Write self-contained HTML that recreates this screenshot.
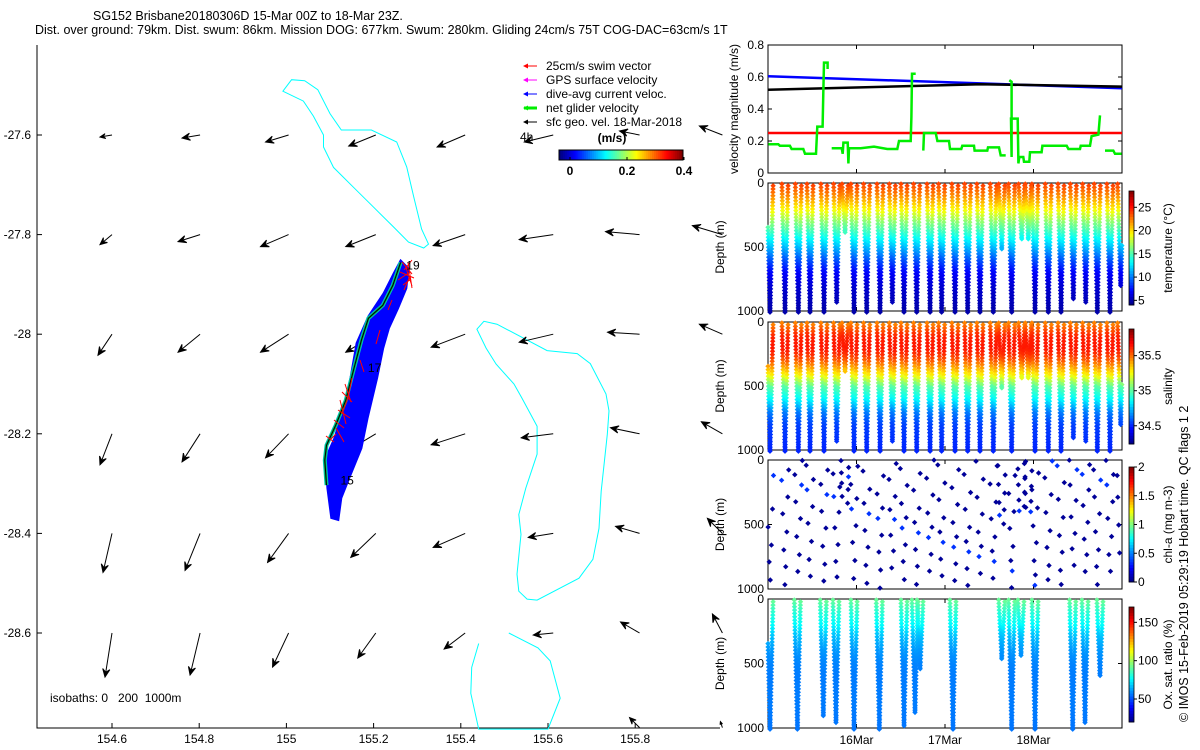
<!DOCTYPE html>
<html><head><meta charset="utf-8"><style>
html,body{margin:0;padding:0;background:#fff;}
svg{display:block;font-family:"Liberation Sans",sans-serif;}
</style></head><body>
<svg id="fig" width="1200" height="750" viewBox="0 0 1200 750" xmlns="http://www.w3.org/2000/svg">
<rect width="1200" height="750" fill="#fff"/>
<text x="93" y="20" font-size="12.5">SG152 Brisbane20180306D 15-Mar 00Z to 18-Mar 23Z.</text>
<text x="35" y="34" font-size="12.5">Dist. over ground: 79km. Dist. swum: 86km. Mission DOG: 677km. Swum: 280km. Gliding 24cm/s 75T COG-DAC=63cm/s 1T</text>
<g id="map"></g>
<g id="right"></g>
<text transform="translate(1188,722) rotate(-90)" font-size="12.5">© IMOS 15-Feb-2019 05:29:19 Hobart time. QC flags 1  2</text>
</svg>
<script>
// ---------- MAP DATA ----------
const mapLonTicks = [154.6, 154.8, 155, 155.2, 155.4, 155.6, 155.8];
const mapLatTicks = [-27.6, -27.8, -28, -28.2, -28.4, -28.6];
const gridLons = [154.6, 154.802, 155.005, 155.205, 155.41, 155.612, 155.81, 156.0];
const gridLats = [-27.6, -27.8, -28.0, -28.2, -28.4, -28.6, -28.79];
const vecU = [
 [-0.12,-0.18,-0.23,-0.27,-0.28,-0.29,-0.20,-0.23],
 [-0.12,-0.22,-0.28,-0.30,-0.32,-0.34,-0.34,-0.30],
 [-0.14,-0.22,-0.28,-0.30,-0.34,-0.34,-0.32,-0.23],
 [-0.12,-0.18,-0.23,-0.25,-0.34,-0.32,-0.29,-0.21],
 [-0.09,-0.15,-0.21,-0.25,-0.32,-0.25,-0.24,-0.15],
 [-0.07,-0.10,-0.16,-0.18,-0.21,-0.20,-0.19,-0.10],
 [null,null,null,null,null,null,-0.10,-0.02]];
const vecV = [
 [-0.02,-0.03,-0.07,-0.11,-0.12,-0.07,0.04,0.09],
 [-0.10,-0.07,-0.12,-0.12,-0.11,-0.05,0.03,0.09],
 [-0.21,-0.18,-0.18,-0.18,-0.13,-0.08,0.02,0.10],
 [-0.31,-0.28,-0.24,-0.15,-0.11,-0.04,0.06,0.12],
 [-0.39,-0.37,-0.29,-0.24,-0.14,-0.04,0.07,0.15],
 [-0.44,-0.42,-0.34,-0.25,-0.16,-0.02,0.11,0.19],
 [null,null,null,null,null,null,0.10,0.06]];
const isoNorthLon = [154.992,155.012,155.042,155.072,155.100,155.126,155.195,155.253,155.276,155.292,155.310,155.326,155.315,155.280,155.246,155.200,155.154,155.108,155.085,155.085,155.062,155.039];
const isoNorthLat = [-27.512,-27.489,-27.491,-27.509,-27.557,-27.590,-27.590,-27.614,-27.664,-27.724,-27.789,-27.819,-27.827,-27.815,-27.785,-27.745,-27.705,-27.665,-27.624,-27.600,-27.562,-27.532];
const isoEastLon = [155.437,155.453,155.483,155.598,155.667,155.697,155.733,155.740,155.736,155.722,155.717,155.703,155.671,155.575,155.552,155.533,155.529,155.538,155.533,155.549,155.575,155.575,155.540,155.522,155.481,155.458];
const isoEastLat = [-27.990,-27.974,-27.980,-28.033,-28.039,-28.059,-28.120,-28.154,-28.201,-28.315,-28.390,-28.452,-28.490,-28.534,-28.532,-28.516,-28.482,-28.402,-28.362,-28.309,-28.241,-28.185,-28.128,-28.100,-28.060,-28.028];
const isoSouthLon = [155.510,155.577,155.605,155.628,155.600,155.441,155.423,155.425,155.441];
const isoSouthLat = [-28.600,-28.630,-28.656,-28.731,-28.793,-28.793,-28.721,-28.669,-28.621];
const trackLon = [155.262,155.244,155.221,155.188,155.172,155.154,155.136,155.113,155.092,155.088,155.092];
const trackLat = [-27.856,-27.902,-27.942,-27.968,-28.012,-28.072,-28.133,-28.183,-28.223,-28.253,-28.303];
const bandLon = [155.262,155.280,155.275,155.256,155.235,155.222,155.208,155.186,155.172,155.144,155.126,155.119,155.103,155.094,155.090,155.110,155.131,155.147,155.161,155.188,155.223,155.246];
const bandLat = [-27.852,-27.868,-27.908,-27.948,-27.988,-28.028,-28.088,-28.169,-28.229,-28.289,-28.329,-28.373,-28.369,-28.309,-28.249,-28.209,-28.149,-28.088,-28.018,-27.964,-27.918,-27.878];
const diveLabels = ["19","17","15"];
const diveLabelLon = [155.275,155.187,155.124];
const diveLabelLat = [-27.87,-28.076,-28.302];

// ---------- TIME SERIES DATA ----------
const velTicks = [0,0.2,0.4,0.6,0.8];
const depthTicks = [0,500,1000];
const dayTicks = [16,17,18];
const dayTickLabels = ["16Mar","17Mar","18Mar"];
const greenT = [15.003,15.116,15.135,15.248,15.267,15.399,15.418,15.542,15.557,15.617,15.625,15.633,15.674,15.674,null,15.72,15.833,15.844,15.852,15.901,15.908,15.915,15.923,16.047,16.198,16.348,16.461,16.480,16.612,16.620,16.627,16.669,null,16.755,16.763,16.895,16.914,17.045,17.056,17.184,17.196,17.328,17.335,17.478,17.486,17.610,17.629,17.686,null,17.727,17.753,17.753,17.746,17.821,17.829,17.840,17.885,17.893,17.953,17.960,18.092,18.100,18.375,18.394,18.525,18.533,18.638,18.657,18.733,18.751,null,18.808,18.902,18.921,18.996];
const greenV = [0.18,0.18,0.17,0.17,0.15,0.15,0.12,0.12,0.29,0.29,0.5,0.69,0.69,0.65,null,0.155,0.155,0.12,0.19,0.19,0.06,0.15,0.155,0.155,0.165,0.15,0.15,0.2,0.2,0.35,0.62,0.62,null,0.14,0.25,0.25,0.2,0.2,0.15,0.15,0.17,0.17,0.14,0.14,0.16,0.16,0.11,0.11,null,0.58,0.57,0.10,0.34,0.34,0.06,0.10,0.10,0.07,0.07,0.13,0.13,0.17,0.17,0.15,0.15,0.17,0.17,0.23,0.24,0.36,null,0.14,0.14,0.12,0.12];
const blueT = [15.0,19.0]; const blueV = [0.605,0.53];
const blackT = [15.0,17.4,19.0]; const blackV = [0.52,0.555,0.54];
const redT = [15.0,19.0]; const redV = [0.25,0.25];
const diveT = [15.023,15.192,15.343,15.475,15.633,15.776,15.870,15.972,16.115,16.266,16.405,16.537,16.680,16.831,16.962,17.113,17.256,17.395,17.546,17.641,17.753,17.866,17.941,18.017,18.167,18.311,18.450,18.590,18.721,18.864,18.985];
const diveD = [1000,1000,1000,1000,1000,930,380,1000,1000,1000,940,1000,1000,1000,1000,1000,1000,1000,1000,520,1000,440,430,1000,1000,1000,915,930,1000,1000,800];
const oxDiveT = [15.023,15.332,15.625,15.768,15.972,16.258,16.537,16.661,16.718,17.090,17.641,17.753,17.858,18.017,18.443,18.582,18.751];
const oxDiveD = [1000,1000,900,950,1000,1000,980,870,550,1000,450,1000,435,1000,1000,950,605];
const profDepth = [0,100,200,250,300,400,500,600,700,800,1000];
const tempProf = [24,22,19.5,18,16.5,14,11.5,9,7,6,5];
const salProf = [35.45,35.62,35.64,35.6,35.52,35.3,35.0,34.85,34.65,34.55,34.5];
const oxProf = [92,82,76,70,66,61,58,57,57,57,56];
const chlFrac = [0.04,0.12,0.25,0.38,0.52,0.66,0.79,0.93];
const chlVal = [0.05,0.35,0.05,0.05,0.05,0.05,0.05,0.05];

// ---------- helpers ----------
const NS="http://www.w3.org/2000/svg";
function mk(tag, attrs, parent){const e=document.createElementNS(NS,tag);for(const k in attrs)e.setAttribute(k,attrs[k]);parent.appendChild(e);return e;}
function jet(f){f=Math.max(0,Math.min(1,f));const c=x=>Math.round(255*Math.max(0,Math.min(1,1.5-Math.abs(4*f-x))));return `rgb(${c(3)},${c(2)},${c(1)})`;}
function interp(xs,ys,x){if(x<=xs[0])return ys[0];for(let i=1;i<xs.length;i++){if(x<=xs[i]){const r=(x-xs[i-1])/(xs[i]-xs[i-1]);return ys[i-1]+r*(ys[i]-ys[i-1]);}}return ys[ys.length-1];}

// ---------- MAP ----------
const map=document.getElementById('map');
const lonX = lon => 112 + (lon-154.6)*436;
const latY = lat => 135 + (-27.6-lat)*498;
const MX0=37, MX1=720, MY0=45, MY1=728;
let ax=mk('path',{d:`M${MX0},${MY0}V${MY1}H${MX1}`,stroke:'#000','stroke-width':1,fill:'none'},map);


mapLonTicks.forEach(v=>{const x=lonX(v);
 let t=mk('line',{x1:x,y1:MY1,x2:x,y2:MY1-5,stroke:'#000'},map);
 
 let l=mk('text',{x:x,y:MY1+15,'font-size':12,'text-anchor':'middle'},map);l.textContent=String(v);
 });
mapLatTicks.forEach(v=>{const y=latY(v);
 let t=mk('line',{x1:MX0,y1:y,x2:MX0+5,y2:y,stroke:'#000'},map);
 
 let l=mk('text',{x:MX0-6,y:y+4,'font-size':12,'text-anchor':'end'},map);l.textContent=String(v);
 });
function poly(lons,lats,attrs,name){const pts=lons.map((v,i)=>lonX(v).toFixed(1)+','+latY(lats[i]).toFixed(1)).join(' ');const p=mk('polygon',Object.assign({points:pts},attrs),map);return p;}
poly(isoNorthLon,isoNorthLat,{fill:'none',stroke:'#00ffff','stroke-width':1},'isobath-north');
poly(isoEastLon,isoEastLat,{fill:'none',stroke:'#00ffff','stroke-width':1},'isobath-east');
{const pts=isoSouthLon.map((v,i)=>lonX(v).toFixed(1)+','+latY(isoSouthLat[i]).toFixed(1)).join(' ');
 const p=mk('polyline',{points:pts,fill:'none',stroke:'#00ffff'},map);
 }
const VS=100;
gridLats.forEach((lat,j)=>gridLons.forEach((lon,i)=>{
 const u=vecU[j][i], v=vecV[j][i]; if(u===null)return;
 const x0=lonX(lon), y0=latY(lat), x1=x0+u*VS, y1=y0-v*VS;
 const g=mk('g',{},map);
 
 
 mk('line',{x1:x0,y1:y0,x2:x1,y2:y1,stroke:'#000','stroke-width':1},g);
 const L=Math.hypot(x1-x0,y1-y0), dx=(x1-x0)/L, dy=(y1-y0)/L, h=Math.min(8,L*0.45), w=h*0.45;
 mk('polygon',{points:`${x1},${y1} ${x1-dx*h-dy*w},${y1-dy*h+dx*w} ${x1-dx*h*0.6},${y1-dy*h*0.6} ${x1-dx*h+dy*w},${y1-dy*h-dx*w}`,fill:'#000',stroke:'#000','stroke-width':1},g);
}));
poly(bandLon,bandLat,{fill:'#0000ff',stroke:'#0000ff','stroke-width':2},'dive-avg-current-band');
{const pts=trackLon.map((v,i)=>lonX(v).toFixed(1)+','+latY(trackLat[i]).toFixed(1)).join(' ');
 let p=mk('polyline',{points:pts,fill:'none',stroke:'#00c8c8','stroke-width':4},map);
 
 p=mk('polyline',{points:pts,fill:'none',stroke:'#00b050','stroke-width':2.5},map);
 
 p=mk('polyline',{points:pts,fill:'none',stroke:'#000','stroke-width':1},map);
 }
const redG=mk('g',{stroke:'#ff0000','stroke-width':1,fill:'none'},map);

mk('path',{d:'M402,262 l10,12 M404,270 l8,-10 M406,268 l6,18 M400,272 l14,6 M408,262 l4,26 M398,280 l12,-8 M410,276 l-6,14 M403,285 l8,-6 M345,384 l6,18 M342,392 l10,10 M348,398 l-6,16 M338,410 l12,8 M340,400 l6,24 M334,420 l10,8 M352,378 l-4,20 M336,428 l8,14 M326,436 l8,6 M330,440 l6,-6 M360,360 l4,12 M380,330 l-4,14 M392,300 l-4,10'},redG);
diveLabels.forEach((s,i)=>{const t=mk('text',{x:lonX(diveLabelLon[i]),y:latY(diveLabelLat[i]),'font-size':12},map);t.textContent=s;});
{const t=mk('text',{x:520,y:141,'font-size':12},map);t.textContent='4h';}
{const t=mk('text',{x:50,y:702,'font-size':12},map);t.textContent='isobaths: 0   200  1000m';t.setAttribute('xml:space','preserve');t.setAttribute('style','white-space:pre');}
const legCols=['#ff0000','#ff00ff','#0000ff','#00ee00','#000000'];
const legText=['25cm/s swim vector','GPS surface velocity','dive-avg current veloc.','net glider velocity','sfc geo. vel. 18-Mar-2018'];
legText.forEach((s,i)=>{const y=66+i*14;const g=mk('g',{},map);
 
 mk('line',{x1:524,y1:y,x2:537,y2:y,stroke:legCols[i],'stroke-width':i==3?3:1},g);
 mk('polygon',{points:`523,${y} 528,${y-2.5} 528,${y+2.5}`,fill:legCols[i]},g);
 const t=mk('text',{x:546,y:y+4,'font-size':12},g);t.textContent=s;});
const cb=mk('g',{},map);
for(let i=0;i<60;i++){mk('rect',{x:559+i*124/60,y:150,width:124/60+0.5,height:10,fill:jet(i/59)},cb);}
mk('rect',{x:559,y:150,width:124,height:10,fill:'none',stroke:'#000'},cb);
[0,0.2,0.4].forEach(v=>{const x=570+v/0.2*57;mk('line',{x1:x,y1:160,x2:x,y2:157,stroke:'#000'},cb);const t=mk('text',{x:x,y:175,'font-size':12,'font-weight':'bold','text-anchor':'middle'},cb);t.textContent=String(v);});
{const t=mk('text',{x:612,y:142,'font-size':12,'font-weight':'bold','text-anchor':'middle'},cb);t.textContent='(m/s)';}

// ---------- RIGHT PANELS ----------
const R=document.getElementById('right');
const PX0=768, PX1=1122;
const tX = t => PX0 + (t-15)*(PX1-PX0)/4;
const panels=[
 {name:'velocity-panel',y0:45,y1:173},
 {name:'temperature-panel',y0:183,y1:311},
 {name:'salinity-panel',y0:322,y1:450},
 {name:'chlorophyll-panel',y0:460,y1:589},
 {name:'oxygen-panel',y0:599,y1:728}];
const dY=(p,d)=>p.y0+d/1000*(p.y1-p.y0);
function panelFrame(p,ticks,labFn,ylabel){
 const g=mk('g',{},R);
 p.g=g;
 mk('rect',{x:PX0,y:p.y0,width:PX1-PX0,height:p.y1-p.y0,fill:'none',stroke:'#000'},g);
 ticks.forEach(v=>{const y=labFn(v);
  mk('line',{x1:PX0,y1:y,x2:PX0+4,y2:y,stroke:'#000'},g);
  mk('line',{x1:PX1,y1:y,x2:PX1-4,y2:y,stroke:'#000'},g);
  const t=mk('text',{x:PX0-4,y:y+4,'font-size':12,'text-anchor':'end'},g);t.textContent=String(v);});
 dayTicks.forEach(d=>{const x=tX(d);mk('line',{x1:x,y1:p.y1,x2:x,y2:p.y1-4,stroke:'#000'},g);mk('line',{x1:x,y1:p.y0,x2:x,y2:p.y0+4,stroke:'#000'},g);});
 const yl=mk('text',{transform:`translate(${ylabel[1]},${(p.y0+p.y1)/2}) rotate(-90)`,'font-size':12,'text-anchor':'middle'},g);yl.textContent=ylabel[0];
 return g;}
{const p=panels[0];const vy=v=>p.y1-v/0.8*(p.y1-p.y0);
 const g=panelFrame(p,velTicks,vy,['velocity magnitude (m/s)',738]);
 function line(ts,vs,col,w,name){let d='',pen=false;ts.forEach((t,i)=>{if(t===null){pen=false;return;}d+=(pen?'L':'M')+tX(t).toFixed(1)+','+vy(vs[i]).toFixed(1);pen=true;});
  const l=mk('path',{d:d,fill:'none',stroke:col,'stroke-width':w},g);}
 line(redT,redV,'#ff0000',2.5,'swim-speed-line');
 line(blueT,blueV,'#0000ff',2.5,'current-speed-line');
 line(blackT,blackV,'#000',2.5,'geostrophic-speed-line');
 line(greenT,greenV,'#00ee00',2.5,'net-velocity-line');}
function diamond(g,x,y,col){mk('path',{d:`M${(x-2.7).toFixed(1)},${y.toFixed(1)}l2.7,-2.7l2.7,2.7l-2.7,2.7z`,fill:col},g);}
function divePanel(p,dts,dds,prof,vmin,vmax,name){
 const sg=mk('g',{},p.g);
 const half=0.035;
 dts.forEach((tb,k)=>{const D=dds[k];
  for(let z=8;z<=D;z+=26){const f=z/D;
   const col=jet((interp(profDepth,prof,z)-vmin)/(vmax-vmin));
   const xd=tX(tb-half*(1-f)), xu=tX(tb+half*(1-f));
   if(xd>=PX0)diamond(sg,xd,dY(p,z),col);
   if(xu<=PX1)diamond(sg,xu,dY(p,z+13),col);}});}
panelFrame(panels[1],depthTicks,d=>dY(panels[1],d),['Depth (m)',724]);
divePanel(panels[1],diveT,diveD,tempProf,4,28.5,'temperature-points');
panelFrame(panels[2],depthTicks,d=>dY(panels[2],d),['Depth (m)',724]);
divePanel(panels[2],diveT,diveD,salProf,34.24,35.88,'salinity-points');
panelFrame(panels[3],depthTicks,d=>dY(panels[3],d),['Depth (m)',724]);
{const p=panels[3];const sg=mk('g',{},p.g);
 diveT.forEach((tb,k)=>{chlFrac.forEach((f0,i)=>{const f=(f0+k*0.037)%1;const z=f*diveD[k];
  const side=(i+k)%2?1:-1;const x=tX(tb+side*0.045*(1-z/1000));if(x<PX0||x>PX1)return;
  diamond(sg,x,dY(p,z),jet(chlVal[i]/2));});});}
panelFrame(panels[4],depthTicks,d=>dY(panels[4],d),['Depth (m)',724]);
divePanel(panels[4],oxDiveT,oxDiveD,oxProf,20,170,'oxygen-points');
dayTicks.forEach((d,i)=>{const t=mk('text',{x:tX(d),y:744,'font-size':12,'text-anchor':'middle'},R);t.textContent=dayTickLabels[i];});
const cbars=[
 {p:1,top:191,bot:305,vmin:4,vmax:28.5,ticks:[5,10,15,20,25],label:'temperature (°C)',name:'temperature-colorbar'},
 {p:2,top:329,bot:444,vmin:34.24,vmax:35.88,ticks:[34.5,35,35.5],label:'salinity',name:'salinity-colorbar'},
 {p:3,top:467,bot:582,vmin:0,vmax:2,ticks:[0,0.5,1,1.5,2],label:'chl-a (mg m-3)',name:'chlorophyll-colorbar'},
 {p:4,top:607,bot:722,vmin:20,vmax:170,ticks:[50,100,150],label:'Ox. sat. ratio (%)',name:'oxygen-colorbar'}];
cbars.forEach(c=>{const g=mk('g',{},R);
 const n=40,h=(c.bot-c.top)/n;for(let i=0;i<n;i++)mk('rect',{x:1129,y:c.bot-(i+1)*h,width:5,height:h+0.4,fill:jet((i+0.5)/n)},g);
 mk('rect',{x:1129,y:c.top,width:5,height:c.bot-c.top,fill:'none',stroke:'#000','stroke-width':0.8},g);
 c.ticks.forEach(v=>{const y=c.bot-(v-c.vmin)/(c.vmax-c.vmin)*(c.bot-c.top);mk('line',{x1:1134,y1:y,x2:1137,y2:y,stroke:'#000'},g);const t=mk('text',{x:1138,y:y+4,'font-size':12},g);t.textContent=String(v);});
 const t=mk('text',{transform:`translate(1172,${(c.top+c.bot)/2}) rotate(-90)`,'font-size':12,'text-anchor':'middle'},g);t.textContent=c.label;});
</script>
</body></html>
